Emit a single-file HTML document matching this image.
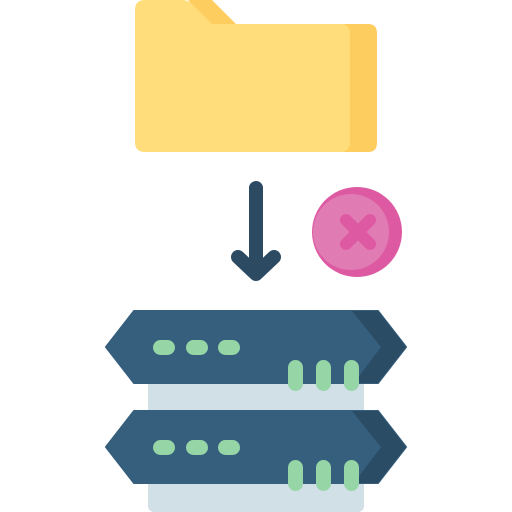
<!DOCTYPE html>
<html><head><style>html,body{margin:0;padding:0;background:#fff}svg{display:block}</style></head>
<body>
<svg width="512" height="512" viewBox="0 0 512 512" xmlns="http://www.w3.org/2000/svg">
<!-- folder -->
<path d="M188,0 H212 L236,24 H368 Q377,24 377,33 V143 Q377,152 368,152 H300 V24 H210 Z" fill="#fecd5f"/>
<path d="M145,0 H182 Q188,0 192,4 L212,24 H340 Q350,24 350,34 V142 Q350,152 340,152 H145 Q135,152 135,142 V10 Q135,0 145,0 Z" fill="#fedd7a"/>
<!-- arrow -->
<path d="M256,188 V272 M238,257 L256,274 L274,257" stroke="#2d4a63" stroke-width="14" stroke-linecap="round" stroke-linejoin="round" fill="none"/>
<!-- x circle -->
<circle cx="357" cy="232" r="45" fill="#dd5aa3"/>
<circle cx="351" cy="232" r="38" fill="#e07cb3"/>
<path d="M346,220 L370,244 M370,220 L346,244" stroke="#dd5aa3" stroke-width="12" stroke-linecap="round"/>
<!-- server back panel -->
<rect x="148" y="370" width="216" height="142" rx="6" fill="#d1e0e7"/>
<g>
<path d="M134,311 H378 L406,347 L378,383 H134 L106,347 Z" fill="#365e7d" stroke="#365e7d" stroke-width="2" stroke-linejoin="round"/>
<path d="M352,311 H378 L406,347 L378,383 H354 L381,347 Z" fill="#2b4c65"/>
<rect x="153" y="340" width="22" height="15" rx="7.5" fill="#95d5a6"/>
<rect x="186" y="340" width="22" height="15" rx="7.5" fill="#95d5a6"/>
<rect x="218" y="340" width="22" height="15" rx="7.5" fill="#95d5a6"/>
<rect x="288" y="360" width="15" height="31" rx="7.5" fill="#95d5a6"/>
<rect x="316" y="360" width="15" height="31" rx="7.5" fill="#95d5a6"/>
<rect x="344" y="360" width="15" height="31" rx="7.5" fill="#95d5a6"/>
</g>
<g transform="translate(0,100)">
<path d="M134,311 H378 L406,347 L378,383 H134 L106,347 Z" fill="#365e7d" stroke="#365e7d" stroke-width="2" stroke-linejoin="round"/>
<path d="M352,311 H378 L406,347 L378,383 H354 L381,347 Z" fill="#2b4c65"/>
<rect x="153" y="340" width="22" height="15" rx="7.5" fill="#95d5a6"/>
<rect x="186" y="340" width="22" height="15" rx="7.5" fill="#95d5a6"/>
<rect x="218" y="340" width="22" height="15" rx="7.5" fill="#95d5a6"/>
<rect x="288" y="360" width="15" height="31" rx="7.5" fill="#95d5a6"/>
<rect x="316" y="360" width="15" height="31" rx="7.5" fill="#95d5a6"/>
<rect x="344" y="360" width="15" height="31" rx="7.5" fill="#95d5a6"/>
</g>
</svg>
</body></html>
